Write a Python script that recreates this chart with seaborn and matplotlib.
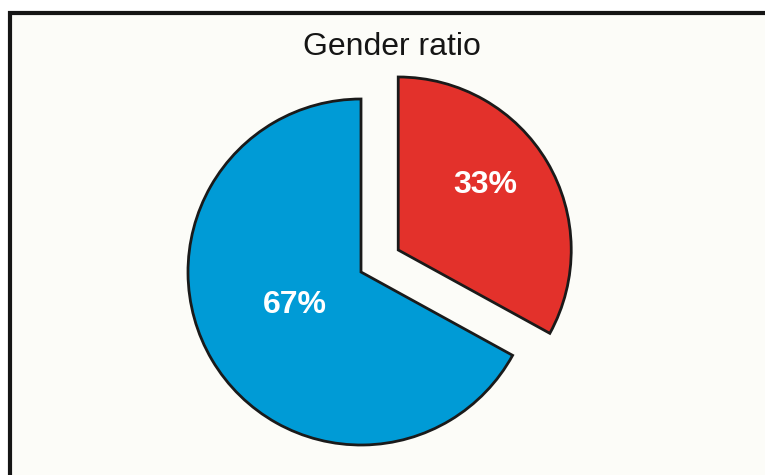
import matplotlib
matplotlib.use("Agg")
import numpy as np
import matplotlib.pyplot as plt
import seaborn as sns
from matplotlib.patches import Rectangle

# data
groups = ["Female", "Male"]
shares = [33, 67]
colors = ["#e3312b", "#009bd6"]
explode = [0.25, 0.0]

sns.set_theme(style="white")
plt.rcParams['font.family'] = ['Liberation Sans', 'DejaVu Sans']

W, H = 765, 475
fig = plt.figure(figsize=(W / 100, H / 100), dpi=100, facecolor="white")

# framed panel (cut off on right and bottom), kept behind the axes
fig.patches.append(Rectangle((10 / W, -0.1), 1.2, (H - 12.5) / H + 0.1,
                             transform=fig.transFigure, facecolor="#fcfcf8",
                             edgecolor="#151515", linewidth=3, zorder=-1))

ax = fig.add_axes([0, 0, 1, 1])
ax.set_facecolor("none")

wedges, texts, autotexts = ax.pie(
    shares, labels=groups, labeldistance=None, colors=colors, explode=explode,
    startangle=90, counterclock=False, autopct="%d%%",
    wedgeprops=dict(edgecolor="#1a1a1a", linewidth=2),
    textprops=dict(color="white", fontsize=23, fontweight="bold"))

# put each percentage a bit differently along its wedge's mid-angle
dists = [0.63, 0.43]
nudge = [6, -4]  # degrees
for w, t, d, n in zip(wedges, autotexts, dists, nudge):
    ang = np.deg2rad((w.theta1 + w.theta2) / 2 + n)
    cx, cy = w.center
    t.set_position((cx + d * w.r * np.cos(ang), cy + d * w.r * np.sin(ang)))

R = 173.0
ax.set_xlim(-361 / R, (W - 361) / R)
ax.set_ylim(-(H - 272) / R, 272 / R)
ax.axis("off")

fig.text(392 / W, 1 - 47 / H, "Gender ratio", ha="center", va="center",
         fontsize=23, color="#151515")

fig.savefig("out.png", dpi=100, facecolor=fig.get_facecolor())
